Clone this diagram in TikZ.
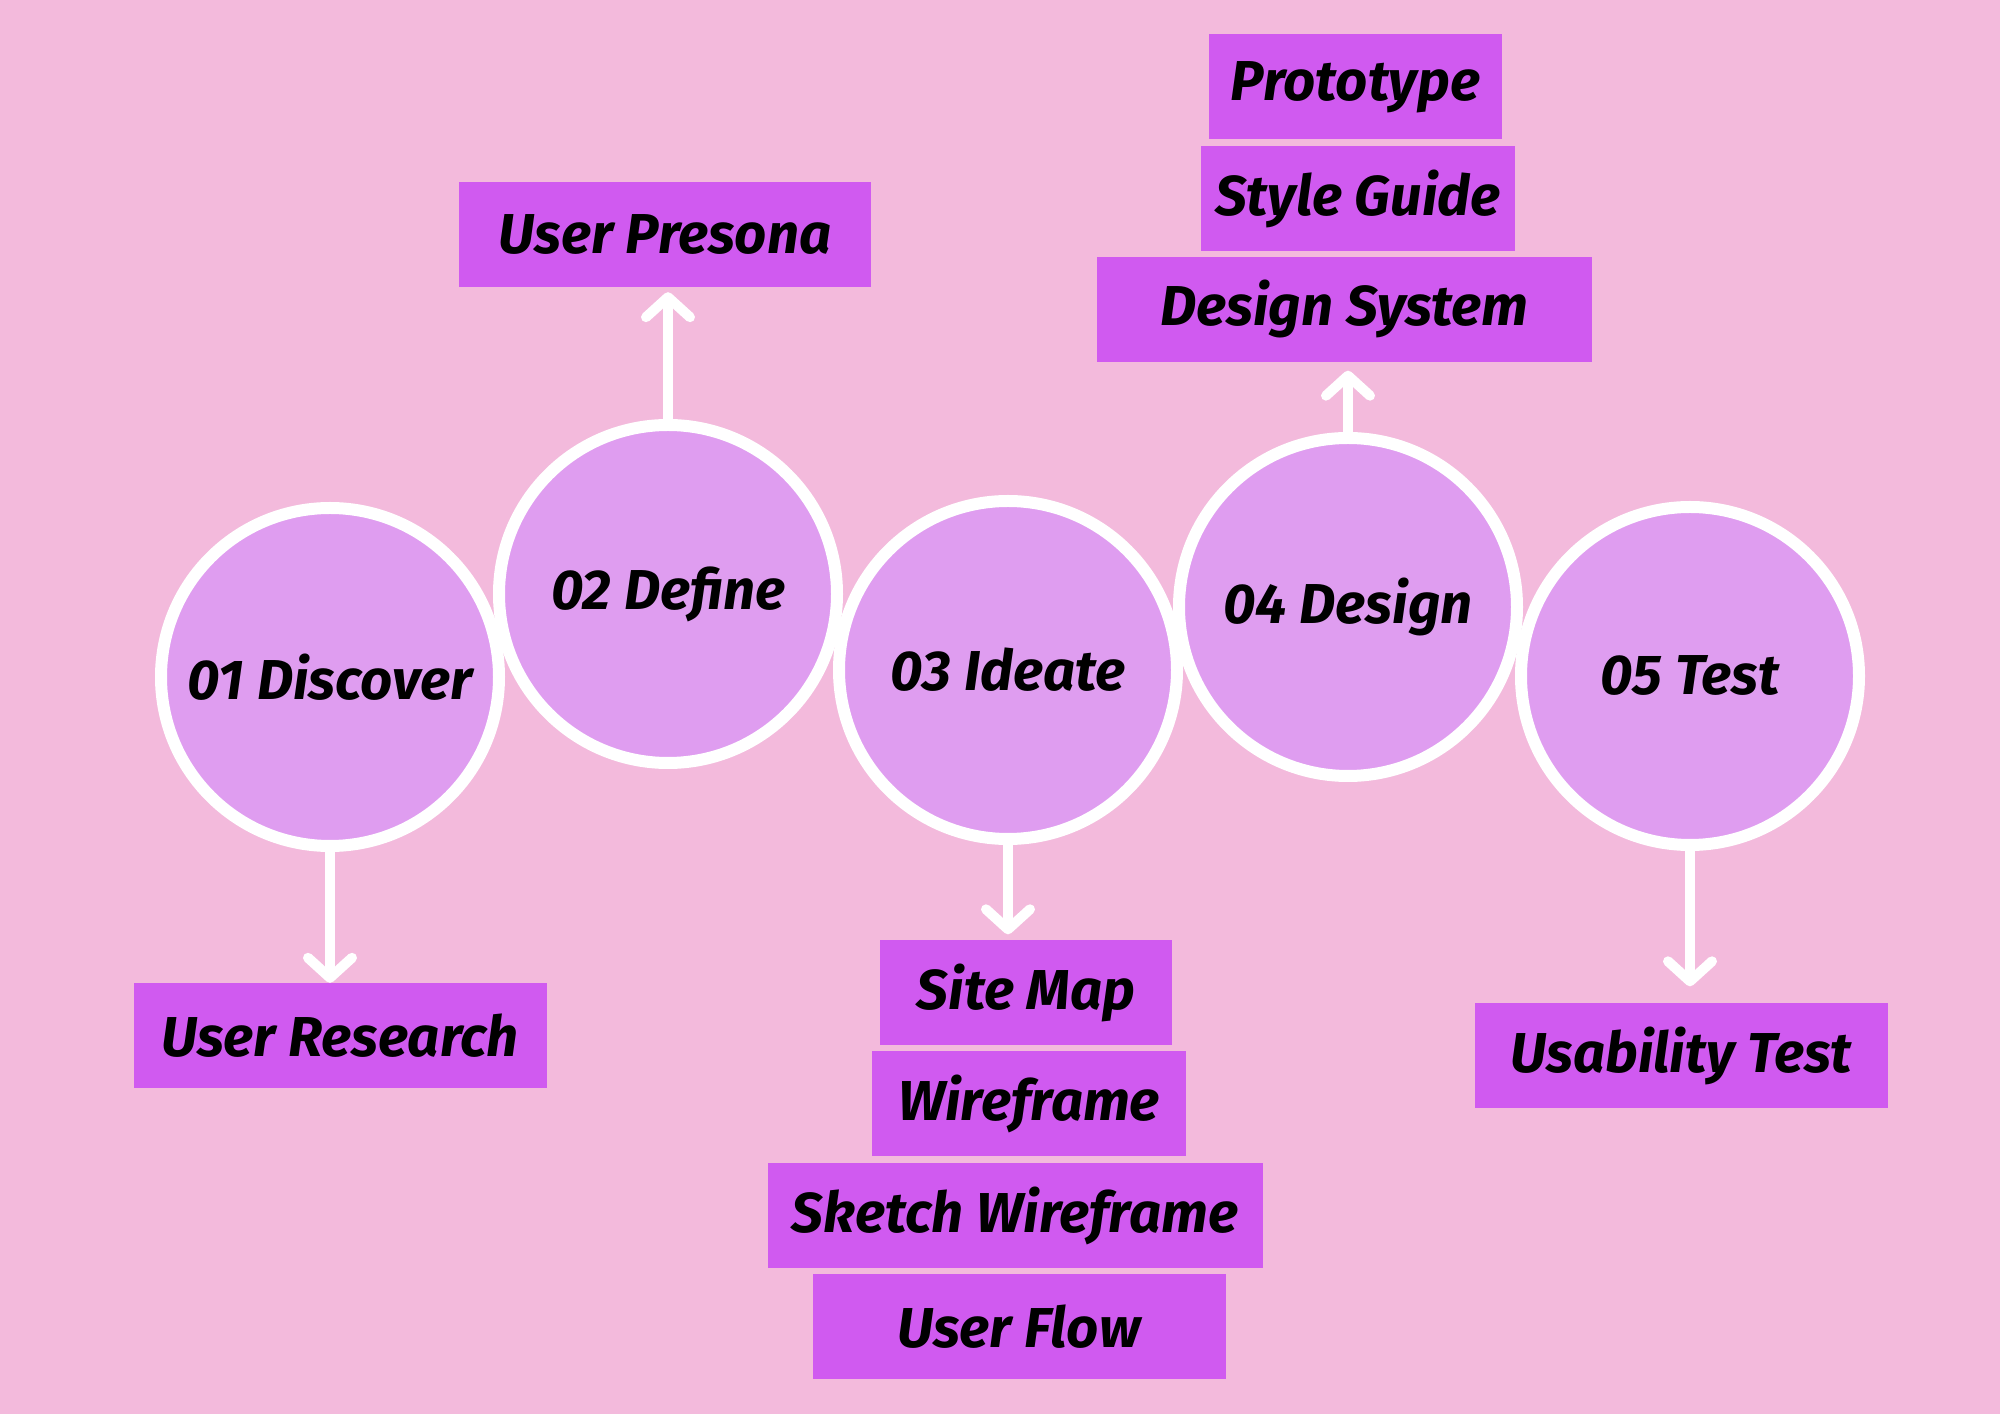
\documentclass[tikz,border=0pt]{standalone}
\usepackage{fontspec}
\setmainfont{Fira Sans}
\usetikzlibrary{arrows.meta}
\definecolor{bgpink}{RGB}{243,186,220}
\definecolor{stagefill}{RGB}{223,157,240}
\definecolor{taskfill}{RGB}{208,90,240}

\begin{document}
\begin{tikzpicture}[
    every node/.style={font=\fontsize{16}{19}\selectfont\bfseries\itshape},
    stage/.style={circle,draw=white,line width=1.2mm,fill=stagefill,minimum size=33.8mm,inner sep=0pt},
    task/.style={fill=taskfill,minimum height=10.5mm,inner sep=0pt},
    flow/.style={draw=white,line width=1mm,-{Straight Barb[round,length=2mm,width=4.4mm]}}
]
        \fill[bgpink](0,0)rectangle(20,14.14);
        \node[stage](c1)at(3.30,7.37){01 Discover};
        \node[stage](c2)at(6.68,8.20){02 Define};
        \node[stage](c3)at(10.08,7.44){03 Ideate};
        \node[stage](c4)at(13.48,8.07){04 Design};
        \node[stage](c5)at(16.90,7.38){05 Test};
        \node[task,minimum width=41.3mm](research)at(3.40,3.78){User Research};
        \node[task,minimum width=41.2mm](persona)at(6.65,11.79){User Presona};
        \node[task,minimum width=29.2mm](sitemap)at(10.26,4.215){Site Map};
        \node[task,minimum width=31.4mm](wire)at(10.29,3.10){Wireframe};
        \node[task,minimum width=49.5mm](sketch)at(10.15,1.985){Sketch Wireframe};
        \node[task,minimum width=41.3mm](userflow)at(10.19,0.875){User Flow};
        \node[task,minimum width=29.3mm](proto)at(13.555,13.27){Prototype};
        \node[task,minimum width=31.4mm](guide)at(13.58,12.155){Style Guide};
        \node[task,minimum width=49.5mm](system)at(13.445,11.045){Design System};
        \node[task,minimum width=41.3mm](usability)at(16.815,3.585){Usability Test};
        \draw[flow](c1.south)--(c1.south|-research.north);
        \draw[flow,shorten >=0.4mm](c2.north)--(c2.north|-persona.south);
        \draw[flow,shorten >=0.5mm](c3.south)--(c3.south|-sitemap.north);
        \draw[flow,shorten >=0.8mm](c4.north)--(c4.north|-system.south);
        \draw[flow,shorten >=1.6mm](c5.south)--(c5.south|-usability.north);
    \end{tikzpicture}
\end{document}
